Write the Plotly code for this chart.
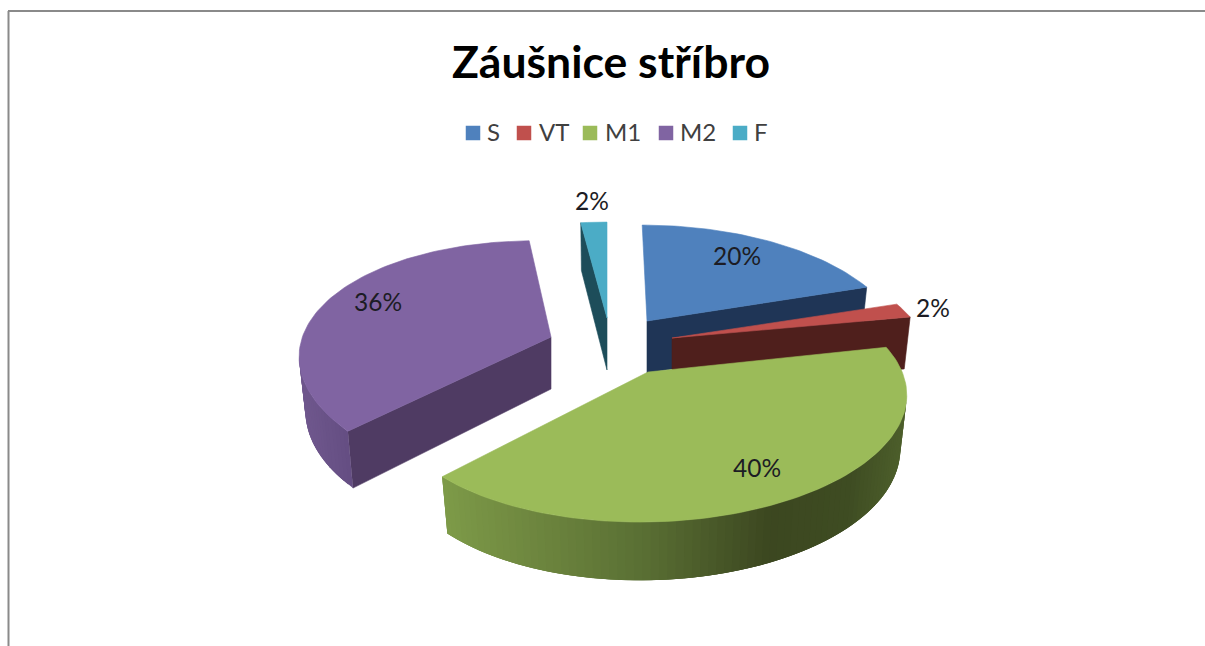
import math
import plotly.graph_objects as go

# ---- data ----
title_text = "Záušnice stříbro"
categories = ["S", "VT", "M1", "M2", "F"]
shares = [20, 2, 40, 36, 2]

# ---- styles / geometry (pixel space of the 1205x646 page) ----
top_colors = ["#4f81bd", "#c0504d", "#9bbb59", "#8064a2", "#4bacc6"]
cut_colors = ["#1f3556", "#4f1f1c", "#4f6a2a", "#4f3b63", "#1d4d5a"]
apex = {"S": (647, 321), "VT": (672, 338), "M1": (648, 372), "M2": (551, 337), "F": (607, 318)}
# per-slice correction for the perspective of the original: x scale, x shear from y, y tilt from x
warp = {"S": (0.975, 0.05, 0.0), "VT": (0.99, 0.0, 0.0), "M1": (0.99, 0.0, -0.015),
        "M2": (0.96, -0.035, 0.035), "F": (1.0, 0.0, 0.0)}
label_pos = {"S": (737, 259), "VT": (933, 311), "M1": (757, 471), "M2": (378, 305), "F": (592, 204)}
marker_x = {"S": 473, "VT": 524, "M1": 590, "M2": 666, "F": 740}
text_x = {"S": 487, "VT": 539, "M1": 605, "M2": 680, "F": 754}
legend_y = 133
legend_text_y = 135
R, H, K = 258, 117, 0.22
BASE_SHRINK = 0.975
wall_stops = {
    "M1": [(444, (125, 154, 72)), (520, (112, 137, 64)), (640, (90, 112, 52)), (770, (60, 71, 32)), (850, (62, 76, 34)), (910, (78, 96, 44))],
    "M2": [(297, (112, 88, 142)), (358, (98, 76, 128))],
}
draw_order = ["S", "F", "VT", "M2", "M1"]

idx = {c: i for i, c in enumerate(categories)}
start, spans = 0.0, {}
for c, v in zip(categories, shares):
    spans[c] = (start, start + v / sum(shares) * 360)
    start = spans[c][1]


def top_pt(c, deg):
    ax, ay = apex[c]
    u, v = math.sin(math.radians(deg)), math.cos(math.radians(deg))
    s = 1 / (1 + K * v)
    x, y = R * u * s, -H * v * s
    xs, sh, ty = warp[c]
    return ax + xs * x * 255 / R + sh * y, ay + y + ty * x


def base_pt(c, deg):
    ax, ay = apex[c]
    x, y = top_pt(c, deg)
    v = math.cos(math.radians(deg))
    return ax + (x - ax) * BASE_SHRINK, y + 53 * (1 - 0.1 * v)


def lerp_color(stops, x):
    if x <= stops[0][0]:
        col = stops[0][1]
    elif x >= stops[-1][0]:
        col = stops[-1][1]
    else:
        for (x0, c0), (x1, c1) in zip(stops, stops[1:]):
            if x0 <= x <= x1:
                t = (x - x0) / (x1 - x0)
                col = tuple(a + (b - a) * t for a, b in zip(c0, c1))
                break
    return "rgb(%d,%d,%d)" % tuple(round(a) for a in col)


fig = go.Figure()


def poly(xs, ys, color, lw=0.6):
    fig.add_trace(go.Scatter(x=xs, y=ys, mode="lines", fill="toself", fillcolor=color,
                             line=dict(color=color, width=lw), hoverinfo="skip", showlegend=False))


def cut_face(c, deg):
    ax, ay = apex[c]
    tx, ty = top_pt(c, deg)
    bx, by = base_pt(c, deg)
    poly([ax, tx, bx, ax, ax], [ay, ty, by, ay + 52, ay], cut_colors[idx[c]])


for c in draw_order:
    a0, a1 = spans[c]
    if c in ("S", "VT"):
        cut_face(c, a1)
    if c in ("F", "M2"):
        cut_face(c, a0)
    # outer wall, only the part that faces the viewer; each band runs on under the next so no seams show
    if c in wall_stops:
        w0, w1 = max(a0, 102.7), min(a1, 257.3)
        n = int((w1 - w0) / 1.5)
        for i in range(n):
            d0 = w0 + (w1 - w0) * i / n
            d1 = w0 + (w1 - w0) * (i + 1) / n
            d2 = min(w1, d1 + 2 * (w1 - w0) / n)
            steps = [d0, d1, d2]
            upper = [top_pt(c, d) for d in steps]
            lower = [base_pt(c, d) for d in reversed(steps)]
            p = upper + lower + [upper[0]]
            poly([q[0] for q in p], [q[1] for q in p],
                 lerp_color(wall_stops[c], (upper[0][0] + upper[1][0]) / 2), lw=0)
    # top surface
    n = max(4, int((a1 - a0) / 1.5))
    arc = [top_pt(c, a0 + (a1 - a0) * i / n) for i in range(n + 1)]
    ax, ay = apex[c]
    poly([ax] + [q[0] for q in arc] + [ax], [ay] + [q[1] for q in arc] + [ay], top_colors[idx[c]])

# percentage labels
fig.add_trace(go.Scatter(
    x=[label_pos[c][0] for c in categories], y=[label_pos[c][1] for c in categories],
    mode="text", text=[f"{v}%" for v in shares], textposition="middle center",
    textfont=dict(family="Lato", size=24.5, color="#1c1c24"), hoverinfo="skip", showlegend=False))

# legend row
fig.add_trace(go.Scatter(
    x=[text_x[c] for c in categories], y=[legend_text_y] * len(categories), mode="text", text=categories,
    textposition="middle right", textfont=dict(family="Lato", size=24, color="#404040"),
    cliponaxis=False, hoverinfo="skip", showlegend=False))
for c in categories:
    fig.add_trace(go.Scatter(
        x=[marker_x[c]], y=[legend_y], mode="markers", name=c,
        marker=dict(symbol="square", size=14.5, color=top_colors[idx[c]], line=dict(width=0)),
        hoverinfo="skip", showlegend=False))

fig.update_layout(
    width=1205, height=646, margin=dict(l=0, r=0, t=0, b=0),
    paper_bgcolor="white", plot_bgcolor="white", showlegend=False,
    title=dict(text=f"<b>{title_text}</b>", x=611 / 1205, xanchor="center", y=1 - 62 / 646, yanchor="middle",
               font=dict(family="Lato", size=44.5, color="#000000")),
    xaxis=dict(range=[0, 1205], visible=False, fixedrange=True),
    yaxis=dict(range=[646, 0], visible=False, fixedrange=True),
    shapes=[
        dict(type="line", xref="paper", yref="paper", x0=8.5 / 1205, x1=8.5 / 1205, y0=0, y1=1 - 11 / 646,
             line=dict(color="#8a8a8a", width=2)),
        dict(type="line", xref="paper", yref="paper", x0=8 / 1205, x1=1, y0=1 - 11 / 646, y1=1 - 11 / 646,
             line=dict(color="#8a8a8a", width=2)),
    ],
)

fig.write_html("out.html", config=dict(displayModeBar=False),
               post_script="document.body.style.margin='0';")
